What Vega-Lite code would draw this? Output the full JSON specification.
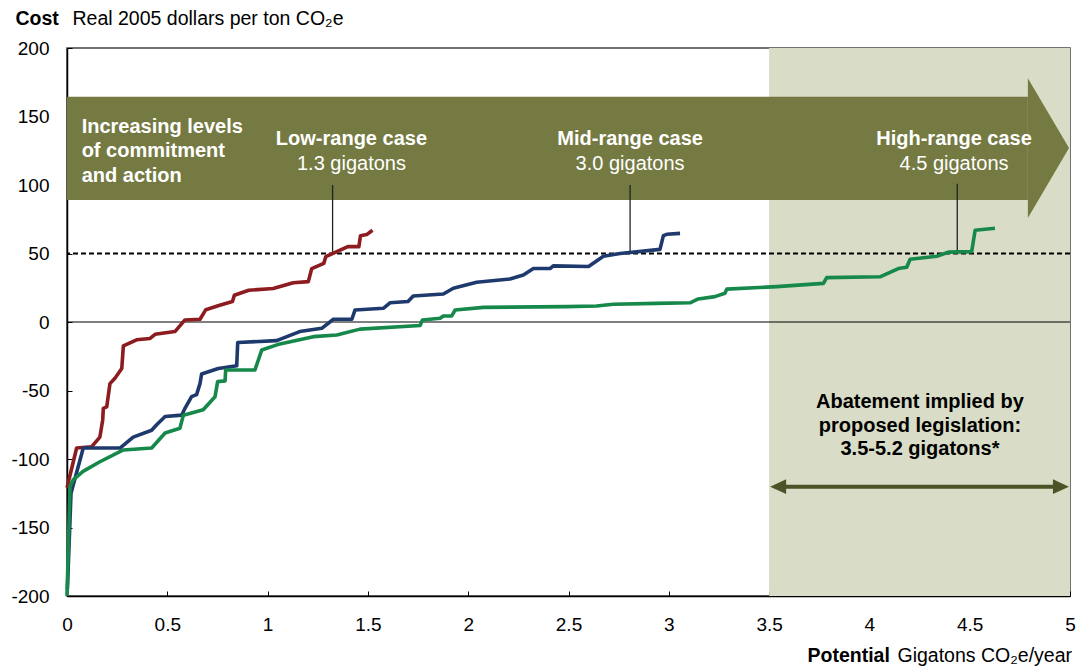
{
  "$schema": "https://vega.github.io/schema/vega-lite/v6.json",
  "width": 1003,
  "height": 548,
  "autosize": {"type": "none"},
  "padding": {"left": 67, "top": 48, "right": 10, "bottom": 70},
  "background": "white",
  "config": {
    "font": "Liberation Sans",
    "view": {"stroke": "#444", "strokeWidth": 1.5},
    "axis": {"grid": false, "labelFont": "Liberation Sans", "titleFont": "Liberation Sans", "labelColor": "black", "titleColor": "black", "labelFontSize": 19, "titleFontSize": 19.5, "labelFlush": false, "labelOverlap": false}
  },
  "datasets": {
    "curves": [
      {"case": "Low-range", "x": 0, "y": -121}, {"case": "Low-range", "x": 0.048, "y": -92}, {"case": "Low-range", "x": 0.123, "y": -91}, {"case": "Low-range", "x": 0.164, "y": -84}, {"case": "Low-range", "x": 0.178, "y": -71.5}, {"case": "Low-range", "x": 0.181, "y": -63}, {"case": "Low-range", "x": 0.198, "y": -62}, {"case": "Low-range", "x": 0.214, "y": -45}, {"case": "Low-range", "x": 0.239, "y": -41}, {"case": "Low-range", "x": 0.273, "y": -34}, {"case": "Low-range", "x": 0.281, "y": -17.5}, {"case": "Low-range", "x": 0.347, "y": -13}, {"case": "Low-range", "x": 0.414, "y": -12}, {"case": "Low-range", "x": 0.439, "y": -9}, {"case": "Low-range", "x": 0.538, "y": -7}, {"case": "Low-range", "x": 0.588, "y": 1.5}, {"case": "Low-range", "x": 0.663, "y": 2}, {"case": "Low-range", "x": 0.692, "y": 9}, {"case": "Low-range", "x": 0.757, "y": 12}, {"case": "Low-range", "x": 0.825, "y": 15}, {"case": "Low-range", "x": 0.834, "y": 19.5}, {"case": "Low-range", "x": 0.906, "y": 23.2}, {"case": "Low-range", "x": 1.028, "y": 24.5}, {"case": "Low-range", "x": 1.128, "y": 28.7}, {"case": "Low-range", "x": 1.203, "y": 29.5}, {"case": "Low-range", "x": 1.22, "y": 39}, {"case": "Low-range", "x": 1.28, "y": 42.8}, {"case": "Low-range", "x": 1.29, "y": 47.7}, {"case": "Low-range", "x": 1.4, "y": 55}, {"case": "Low-range", "x": 1.455, "y": 55}, {"case": "Low-range", "x": 1.463, "y": 63}, {"case": "Low-range", "x": 1.494, "y": 63.8}, {"case": "Low-range", "x": 1.523, "y": 67},
      {"case": "Mid-range", "x": 0.002, "y": -195}, {"case": "Mid-range", "x": 0.02, "y": -125}, {"case": "Mid-range", "x": 0.081, "y": -92}, {"case": "Mid-range", "x": 0.264, "y": -92}, {"case": "Mid-range", "x": 0.33, "y": -84}, {"case": "Mid-range", "x": 0.422, "y": -79}, {"case": "Mid-range", "x": 0.447, "y": -75}, {"case": "Mid-range", "x": 0.489, "y": -69}, {"case": "Mid-range", "x": 0.572, "y": -68}, {"case": "Mid-range", "x": 0.588, "y": -63}, {"case": "Mid-range", "x": 0.621, "y": -54.5}, {"case": "Mid-range", "x": 0.646, "y": -53}, {"case": "Mid-range", "x": 0.663, "y": -45}, {"case": "Mid-range", "x": 0.671, "y": -38}, {"case": "Mid-range", "x": 0.754, "y": -34}, {"case": "Mid-range", "x": 0.846, "y": -32}, {"case": "Mid-range", "x": 0.851, "y": -15}, {"case": "Mid-range", "x": 1.045, "y": -13.6}, {"case": "Mid-range", "x": 1.16, "y": -7}, {"case": "Mid-range", "x": 1.27, "y": -4.6}, {"case": "Mid-range", "x": 1.328, "y": 2}, {"case": "Mid-range", "x": 1.42, "y": 2}, {"case": "Mid-range", "x": 1.436, "y": 8.8}, {"case": "Mid-range", "x": 1.577, "y": 10}, {"case": "Mid-range", "x": 1.61, "y": 14}, {"case": "Mid-range", "x": 1.7, "y": 15}, {"case": "Mid-range", "x": 1.726, "y": 19}, {"case": "Mid-range", "x": 1.876, "y": 20.4}, {"case": "Mid-range", "x": 1.926, "y": 24.6}, {"case": "Mid-range", "x": 2.042, "y": 29}, {"case": "Mid-range", "x": 2.208, "y": 31.4}, {"case": "Mid-range", "x": 2.275, "y": 34.3}, {"case": "Mid-range", "x": 2.325, "y": 39}, {"case": "Mid-range", "x": 2.408, "y": 39}, {"case": "Mid-range", "x": 2.424, "y": 41}, {"case": "Mid-range", "x": 2.6, "y": 40.5}, {"case": "Mid-range", "x": 2.674, "y": 48}, {"case": "Mid-range", "x": 2.757, "y": 50}, {"case": "Mid-range", "x": 2.956, "y": 53}, {"case": "Mid-range", "x": 2.973, "y": 63}, {"case": "Mid-range", "x": 2.99, "y": 64}, {"case": "Mid-range", "x": 3.056, "y": 64.7},
      {"case": "High-range", "x": 0, "y": -200}, {"case": "High-range", "x": 0.015, "y": -120}, {"case": "High-range", "x": 0.032, "y": -115}, {"case": "High-range", "x": 0.08, "y": -109}, {"case": "High-range", "x": 0.164, "y": -102}, {"case": "High-range", "x": 0.281, "y": -93.4}, {"case": "High-range", "x": 0.422, "y": -92}, {"case": "High-range", "x": 0.489, "y": -81}, {"case": "High-range", "x": 0.563, "y": -77.6}, {"case": "High-range", "x": 0.58, "y": -68}, {"case": "High-range", "x": 0.679, "y": -64}, {"case": "High-range", "x": 0.738, "y": -54.5}, {"case": "High-range", "x": 0.751, "y": -43.5}, {"case": "High-range", "x": 0.788, "y": -43}, {"case": "High-range", "x": 0.791, "y": -35}, {"case": "High-range", "x": 0.937, "y": -35}, {"case": "High-range", "x": 0.971, "y": -20.4}, {"case": "High-range", "x": 1.05, "y": -16.5}, {"case": "High-range", "x": 1.228, "y": -10.7}, {"case": "High-range", "x": 1.345, "y": -9.5}, {"case": "High-range", "x": 1.461, "y": -5.2}, {"case": "High-range", "x": 1.76, "y": -2.5}, {"case": "High-range", "x": 1.772, "y": 1.5}, {"case": "High-range", "x": 1.86, "y": 2.7}, {"case": "High-range", "x": 1.876, "y": 4.4}, {"case": "High-range", "x": 1.918, "y": 4.4}, {"case": "High-range", "x": 1.935, "y": 8.8}, {"case": "High-range", "x": 2.076, "y": 10.7}, {"case": "High-range", "x": 2.49, "y": 11.2}, {"case": "High-range", "x": 2.64, "y": 11.7}, {"case": "High-range", "x": 2.723, "y": 13}, {"case": "High-range", "x": 2.939, "y": 13.6}, {"case": "High-range", "x": 3.106, "y": 14}, {"case": "High-range", "x": 3.147, "y": 16.8}, {"case": "High-range", "x": 3.23, "y": 18.5}, {"case": "High-range", "x": 3.28, "y": 21}, {"case": "High-range", "x": 3.289, "y": 24}, {"case": "High-range", "x": 3.538, "y": 25.8}, {"case": "High-range", "x": 3.771, "y": 28.2}, {"case": "High-range", "x": 3.787, "y": 32.4}, {"case": "High-range", "x": 4.053, "y": 33}, {"case": "High-range", "x": 4.144, "y": 39}, {"case": "High-range", "x": 4.186, "y": 40}, {"case": "High-range", "x": 4.203, "y": 45.8}, {"case": "High-range", "x": 4.336, "y": 48}, {"case": "High-range", "x": 4.394, "y": 51}, {"case": "High-range", "x": 4.51, "y": 51.4}, {"case": "High-range", "x": 4.527, "y": 67}, {"case": "High-range", "x": 4.626, "y": 68.4}
    ],
    "shade": [{"x": 3.5, "x2": 5, "y": -200, "y2": 200}],
    "arrowBody": [{"x": 0, "x2": 4.79, "y": 89, "y2": 164.5}],
    "arrowHead": [{"x": 4.79, "y": 76, "y2": 178}, {"x": 4.995, "y": 127, "y2": 127}],
    "callouts": [{"x": 1.324, "y": 50, "y2": 100}, {"x": 2.807, "y": 50, "y2": 100}, {"x": 4.438, "y": 51, "y2": 101}],
    "refLines": [{"y": 0, "kind": "zero"}],
    "dashLine": [{"y": 50}],
    "spanLine": [{"x": 3.56, "x2": 4.94, "y": -120.2}],
    "spanHeads": [
      {"side": "L", "x": 3.505, "y": -120.2, "y2": -120.2}, {"side": "L", "x": 3.585, "y": -125.6, "y2": -114.8},
      {"side": "R", "x": 4.915, "y": -125.6, "y2": -114.8}, {"side": "R", "x": 4.995, "y": -120.2, "y2": -120.2}
    ],
    "leftText": [{"x": 0.073, "y": 137.7, "text": "Increasing levels"}, {"x": 0.073, "y": 120.2, "text": "of commitment"}, {"x": 0.073, "y": 102.4, "text": "and action"}],
    "caseText": [{"x": 1.418, "y": 129.2, "text": "Low-range case"}, {"x": 2.807, "y": 129.2, "text": "Mid-range case"}, {"x": 4.422, "y": 129.2, "text": "High-range case"}],
    "gigaText": [{"x": 1.418, "y": 111, "text": "1.3 gigatons"}, {"x": 2.807, "y": 111, "text": "3.0 gigatons"}, {"x": 4.422, "y": 111, "text": "4.5 gigatons"}],
    "abateText": [{"x": 4.252, "y": -63, "text": "Abatement implied by"}, {"x": 4.252, "y": -80, "text": "proposed legislation:"}, {"x": 4.252, "y": -97, "text": "3.5-5.2 gigatons*"}]
  },
  "layer": [
    {
      "layer": [
        {
          "data": {"name": "shade"},
          "mark": {"type": "rect", "color": "#d9dcc6"},
          "encoding": {
            "x": {"field": "x", "type": "quantitative", "scale": {"domain": [0, 5], "nice": false, "zero": false},
              "axis": {"orient": "bottom", "values": [0, 0.5, 1, 1.5, 2, 2.5, 3, 3.5, 4, 4.5, 5], "labelExpr": "'' + datum.value", "tickSize": -5, "tickColor": "black", "domainColor": "black", "domainWidth": 1.5, "labelPadding": 24, "title": "Gigatons CO₂e/year", "titleFontWeight": "normal", "titleX": 830, "titleY": 65, "titleAlign": "left", "titleBaseline": "alphabetic", "titleAnchor": null}},
            "x2": {"field": "x2"},
            "y": {"field": "y", "type": "quantitative", "scale": {"domain": [-200, 200], "nice": false, "zero": false},
              "axis": {"orient": "left", "values": [-200, -150, -100, -50, 0, 50, 100, 150, 200], "labelExpr": "'' + datum.value", "tickSize": -5, "tickColor": "black", "domainColor": "black", "domainWidth": 1.5, "labelPadding": 23, "title": "Cost", "titleFontWeight": "bold", "titleAngle": 0, "titleX": -52, "titleY": -24, "titleAlign": "left", "titleBaseline": "alphabetic", "titleAnchor": null}},
            "y2": {"field": "y2"}
          }
        },
        {
          "data": {"name": "arrowBody"},
          "mark": {"type": "rect", "color": "#747a41"},
          "encoding": {"x": {"field": "x", "type": "quantitative"}, "x2": {"field": "x2"}, "y": {"field": "y", "type": "quantitative"}, "y2": {"field": "y2"}}
        },
        {
          "data": {"name": "arrowHead"},
          "mark": {"type": "area", "color": "#747a41", "opacity": 1},
          "encoding": {"x": {"field": "x", "type": "quantitative"}, "y": {"field": "y", "type": "quantitative"}, "y2": {"field": "y2"}}
        },
        {
          "data": {"name": "refLines"},
          "mark": {"type": "rule", "color": "black", "strokeWidth": 1},
          "encoding": {"y": {"field": "y", "type": "quantitative"}}
        },
        {
          "data": {"name": "dashLine"},
          "mark": {"type": "rule", "color": "black", "strokeWidth": 2, "strokeDash": [5, 3]},
          "encoding": {"y": {"field": "y", "type": "quantitative"}}
        },
        {
          "data": {"name": "callouts"},
          "mark": {"type": "rule", "color": "#222", "strokeWidth": 1.3},
          "encoding": {"x": {"field": "x", "type": "quantitative"}, "y": {"field": "y", "type": "quantitative"}, "y2": {"field": "y2"}}
        },
        {
          "data": {"name": "curves"},
          "mark": {"type": "line", "strokeWidth": 3.6, "strokeJoin": "round"},
          "encoding": {
            "x": {"field": "x", "type": "quantitative"},
            "y": {"field": "y", "type": "quantitative"},
            "color": {"field": "case", "type": "nominal", "scale": {"domain": ["Low-range", "Mid-range", "High-range"], "range": ["#8c1c1f", "#1e3a6c", "#15884a"]}, "legend": null}
          }
        },
        {
          "data": {"name": "spanLine"},
          "mark": {"type": "rule", "color": "#4a5427", "strokeWidth": 4},
          "encoding": {"x": {"field": "x", "type": "quantitative"}, "x2": {"field": "x2"}, "y": {"field": "y", "type": "quantitative"}}
        },
        {
          "data": {"name": "spanHeads"},
          "mark": {"type": "area", "color": "#4a5427", "opacity": 1},
          "encoding": {"x": {"field": "x", "type": "quantitative"}, "y": {"field": "y", "type": "quantitative"}, "y2": {"field": "y2"}, "detail": {"field": "side"}}
        },
        {
          "data": {"name": "leftText"},
          "mark": {"type": "text", "color": "white", "fontSize": 20, "fontWeight": "bold", "align": "left", "baseline": "alphabetic", "font": "Liberation Sans"},
          "encoding": {"x": {"field": "x", "type": "quantitative"}, "y": {"field": "y", "type": "quantitative"}, "text": {"field": "text"}}
        },
        {
          "data": {"name": "caseText"},
          "mark": {"type": "text", "color": "white", "fontSize": 20, "fontWeight": "bold", "align": "center", "baseline": "alphabetic", "font": "Liberation Sans"},
          "encoding": {"x": {"field": "x", "type": "quantitative"}, "y": {"field": "y", "type": "quantitative"}, "text": {"field": "text"}}
        },
        {
          "data": {"name": "gigaText"},
          "mark": {"type": "text", "color": "white", "fontSize": 20, "align": "center", "baseline": "alphabetic", "font": "Liberation Sans"},
          "encoding": {"x": {"field": "x", "type": "quantitative"}, "y": {"field": "y", "type": "quantitative"}, "text": {"field": "text"}}
        },
        {
          "data": {"name": "abateText"},
          "mark": {"type": "text", "color": "black", "fontSize": 20, "fontWeight": "bold", "align": "center", "baseline": "alphabetic", "font": "Liberation Sans"},
          "encoding": {"x": {"field": "x", "type": "quantitative"}, "y": {"field": "y", "type": "quantitative"}, "text": {"field": "text"}}
        }
      ]
    },
    {
      "data": {"values": [{"x": 0, "y": 0}]},
      "mark": {"type": "point", "opacity": 0},
      "encoding": {
        "x": {"field": "x", "type": "quantitative", "axis": {"orient": "top", "labels": false, "ticks": false, "domain": false, "title": "Potential", "titleFontWeight": "bold", "titleX": 740, "titleY": 613, "titleAlign": "left", "titleBaseline": "alphabetic", "titleAnchor": null}},
        "y": {"field": "y", "type": "quantitative", "axis": {"orient": "right", "labels": false, "ticks": false, "domain": false, "title": "Real 2005 dollars per ton CO₂e", "titleFontWeight": "normal", "titleAngle": 0, "titleX": -998, "titleY": -24, "titleAlign": "left", "titleBaseline": "alphabetic", "titleAnchor": null}}
      }
    }
  ],
  "resolve": {"axis": {"x": "independent", "y": "independent"}}
}
